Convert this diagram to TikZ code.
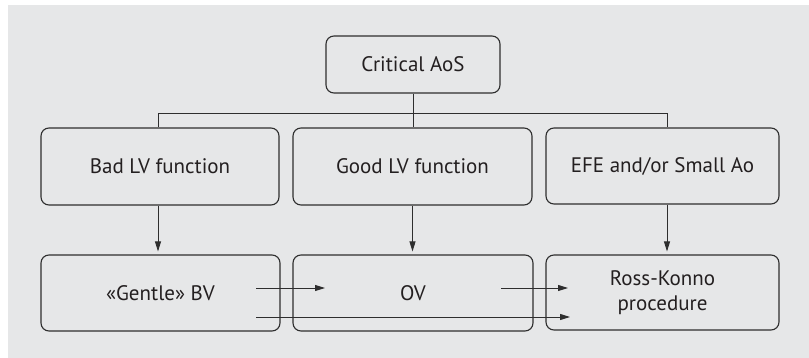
\documentclass[tikz,border=0pt]{standalone}
\usepackage{fontspec}
\setmainfont{PT Sans}
\usetikzlibrary{arrows.meta}
\definecolor{bgc}{HTML}{E6E7E8}
\definecolor{linec}{HTML}{2E2E2E}
\definecolor{txtc}{HTML}{231F20}
\tikzset{
  box/.style={draw=linec, line width=1.1pt, rounded corners=8pt, align=center, text=txtc,
    font=\fontsize{21}{25}\selectfont, inner sep=0pt},
  conn/.style={draw=linec, line width=0.9pt},
  arr/.style={conn, -{Triangle[length=10pt,width=6pt]}}
}
\begin{document}
\begin{tikzpicture}[x=1pt,y=-1pt]
\useasboundingbox (0,0) rectangle (809,358);
\fill[bgc] (8,5) rectangle (809,358);
\node[box, minimum width=174pt, minimum height=57pt] (crit) at (413,64.5) {Critical AoS};
\node[box, minimum width=238pt, minimum height=77pt] (bad) at (160,166.5) {Bad LV function};
\node[box, minimum width=239pt, minimum height=77pt] (good) at (412.5,166.5) {Good LV function};
\node[box, minimum width=233pt, minimum height=76pt] (efe) at (662.5,166) {EFE and/or Small Ao};
\node[box, minimum width=239pt, minimum height=76pt] (gentle) at (160.5,293) {«Gentle» BV};
\node[box, minimum width=240pt, minimum height=76pt] (ov) at (413,293) {OV};
\node[box, minimum width=233pt, minimum height=75pt] (ross) at (662.5,292.5) {Ross-Konno\\procedure};
\coordinate (j1) at (158,113);
\coordinate (j3) at (667,113);
\coordinate (b1) at (158,0);
\coordinate (b3) at (667,0);
\draw[conn] (crit.south) -- (crit.south |- good.north);
\draw[conn] (b1 |- bad.north) -- (j1) -- (j3) -- (b3 |- efe.north);
\draw[arr, shorten >=3pt] (b1 |- bad.south) -- (b1 |- gentle.north);
\draw[arr, shorten >=3pt] (good.south) -- (good.south |- ov.north);
\draw[arr, shorten >=3pt] (b3 |- efe.south) -- (b3 |- ross.north);
\coordinate (s1) at (256,288);
\coordinate (e1) at (325,288);
\coordinate (s2) at (501,288);
\coordinate (e2) at (568,288);
\coordinate (s3) at (256,317);
\coordinate (e3) at (570,317);
\draw[arr] (s1) -- (e1);
\draw[arr] (s2) -- (e2);
\draw[arr] (s3) -- (e3);
\end{tikzpicture}
\end{document}
